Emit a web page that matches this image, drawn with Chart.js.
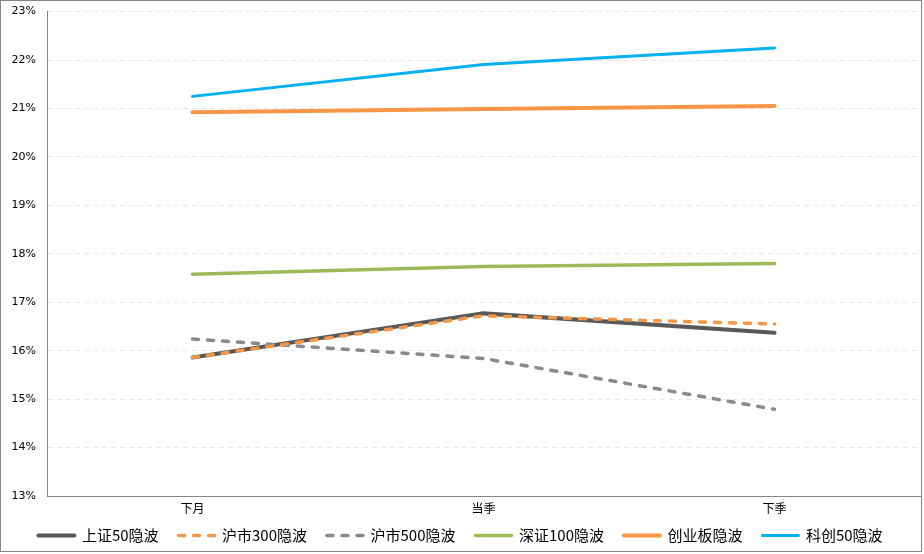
<!DOCTYPE html>
<html>
<head>
<meta charset="utf-8">
<script src="https://cdn.jsdelivr.net/npm/chart.js@4/dist/chart.umd.min.js"></script>
<style>
  body { margin: 0; background: #fff; }
  #frame { position: absolute; left: 0; top: 0; width: 920px; height: 550px; border: 1px solid #868686; background: #fff; }
  #wrap { position: relative; width: 920px; height: 550px; }
</style>
</head>
<body>
<div id="frame"><div id="wrap"><canvas id="grafico"></canvas></div></div>
<script>
// categorías y series (valores en %)
const categorias = ["下月", "当季", "下季"];
const nombres = ["上证50隐波", "沪市300隐波", "沪市500隐波", "深证100隐波", "创业板隐波", "科创50隐波"];
const sz50 = [15.86, 16.77, 16.37];
const hs300 = [15.86, 16.72, 16.55];
const hs500 = [16.24, 15.84, 14.79];
const sz100 = [17.58, 17.74, 17.80];
const cyb = [20.92, 20.99, 21.05];
const kc50 = [21.25, 21.91, 22.25];
const ticksY = [13, 14, 15, 16, 17, 18, 19, 20, 21, 22, 23];

const colores = ["#595959", "#F79646", "#898989", "#9BBB59", "#F79646", "#00B0F0"];
const valores = [sz50, hs300, hs500, sz100, cyb, kc50];
const rayas = [[], [6, 9], [6, 9], [], [], []];
const grosor = [4, 3.5, 3.5, 3.5, 4, 3];
const orden = [2, 0, 1, 1, 1, 1];

const ctx = document.querySelector("#grafico").getContext("2d");

new Chart(ctx, {
  type: "line",
  data: {
    labels: categorias,
    datasets: nombres.map((n, i) => ({
      label: n,
      data: valores[i],
      borderColor: colores[i],
      backgroundColor: colores[i],
      borderWidth: grosor[i],
      borderDash: rayas[i],
      borderCapStyle: rayas[i].length ? "round" : "round",
      pointRadius: 0,
      pointHoverRadius: 0,
      tension: 0,
      fill: false,
      order: orden[i],
    })),
  },
  options: {
    responsive: true,
    maintainAspectRatio: false,
    animation: false,
    layout: { padding: { top: 3, right: 1, left: 0, bottom: 3 } },
    scales: {
      x: {
        offset: true,
        grid: { display: false, drawTicks: false },
        border: { display: true, color: "#868686", width: 1 },
        ticks: { color: "#000", padding: 5, font: { family: "'Noto Sans CJK SC'", size: 12 } },
        afterFit: (s) => { s.height = 12; },
      },
      y: {
        min: 13,
        max: 23,
        afterBuildTicks: (s) => { s.ticks = ticksY.map((v) => ({ value: v })); },
        grid: { color: "#e8e8e8", drawTicks: true, tickLength: 7, tickColor: "rgba(0,0,0,0)" },
        border: { display: true, color: "#868686", width: 1, dash: [5, 4] },
        ticks: {
          color: "#000",
          padding: 4,
          font: { family: "'DejaVu Sans'", size: 11 },
          callback: (v) => v + "%",
        },
        afterFit: (s) => { s.width = 46; },
      },
    },
    plugins: {
      legend: {
        position: "bottom",
        maxHeight: 40,
        labels: {
          usePointStyle: true,
          pointStyle: "line",
          pointStyleWidth: 36,
          boxHeight: 4,
          padding: 20,
          color: "#000",
          font: { family: "'Noto Sans CJK SC'", size: 15 },
          sort: (a, b) => a.datasetIndex - b.datasetIndex,
          generateLabels: (chart) => {
            const base = Chart.defaults.plugins.legend.labels.generateLabels(chart);
            return base.map((it) => {
              const ds = chart.data.datasets[it.datasetIndex];
              it.lineDash = ds.borderDash;
              it.lineWidth = ds.borderWidth;
              it.lineCap = "round";
              it.strokeStyle = ds.borderColor;
              return it;
            });
          },
        },
      },
      tooltip: { enabled: false },
    },
  },
  plugins: [{
    // deja que las etiquetas del eje x salgan de su caja
    id: "sinRecorte",
    afterLayout(chart) {
      chart.scales.x._computeLabelArea = () => undefined;
    },
  }],
});
</script>
</body>
</html>
